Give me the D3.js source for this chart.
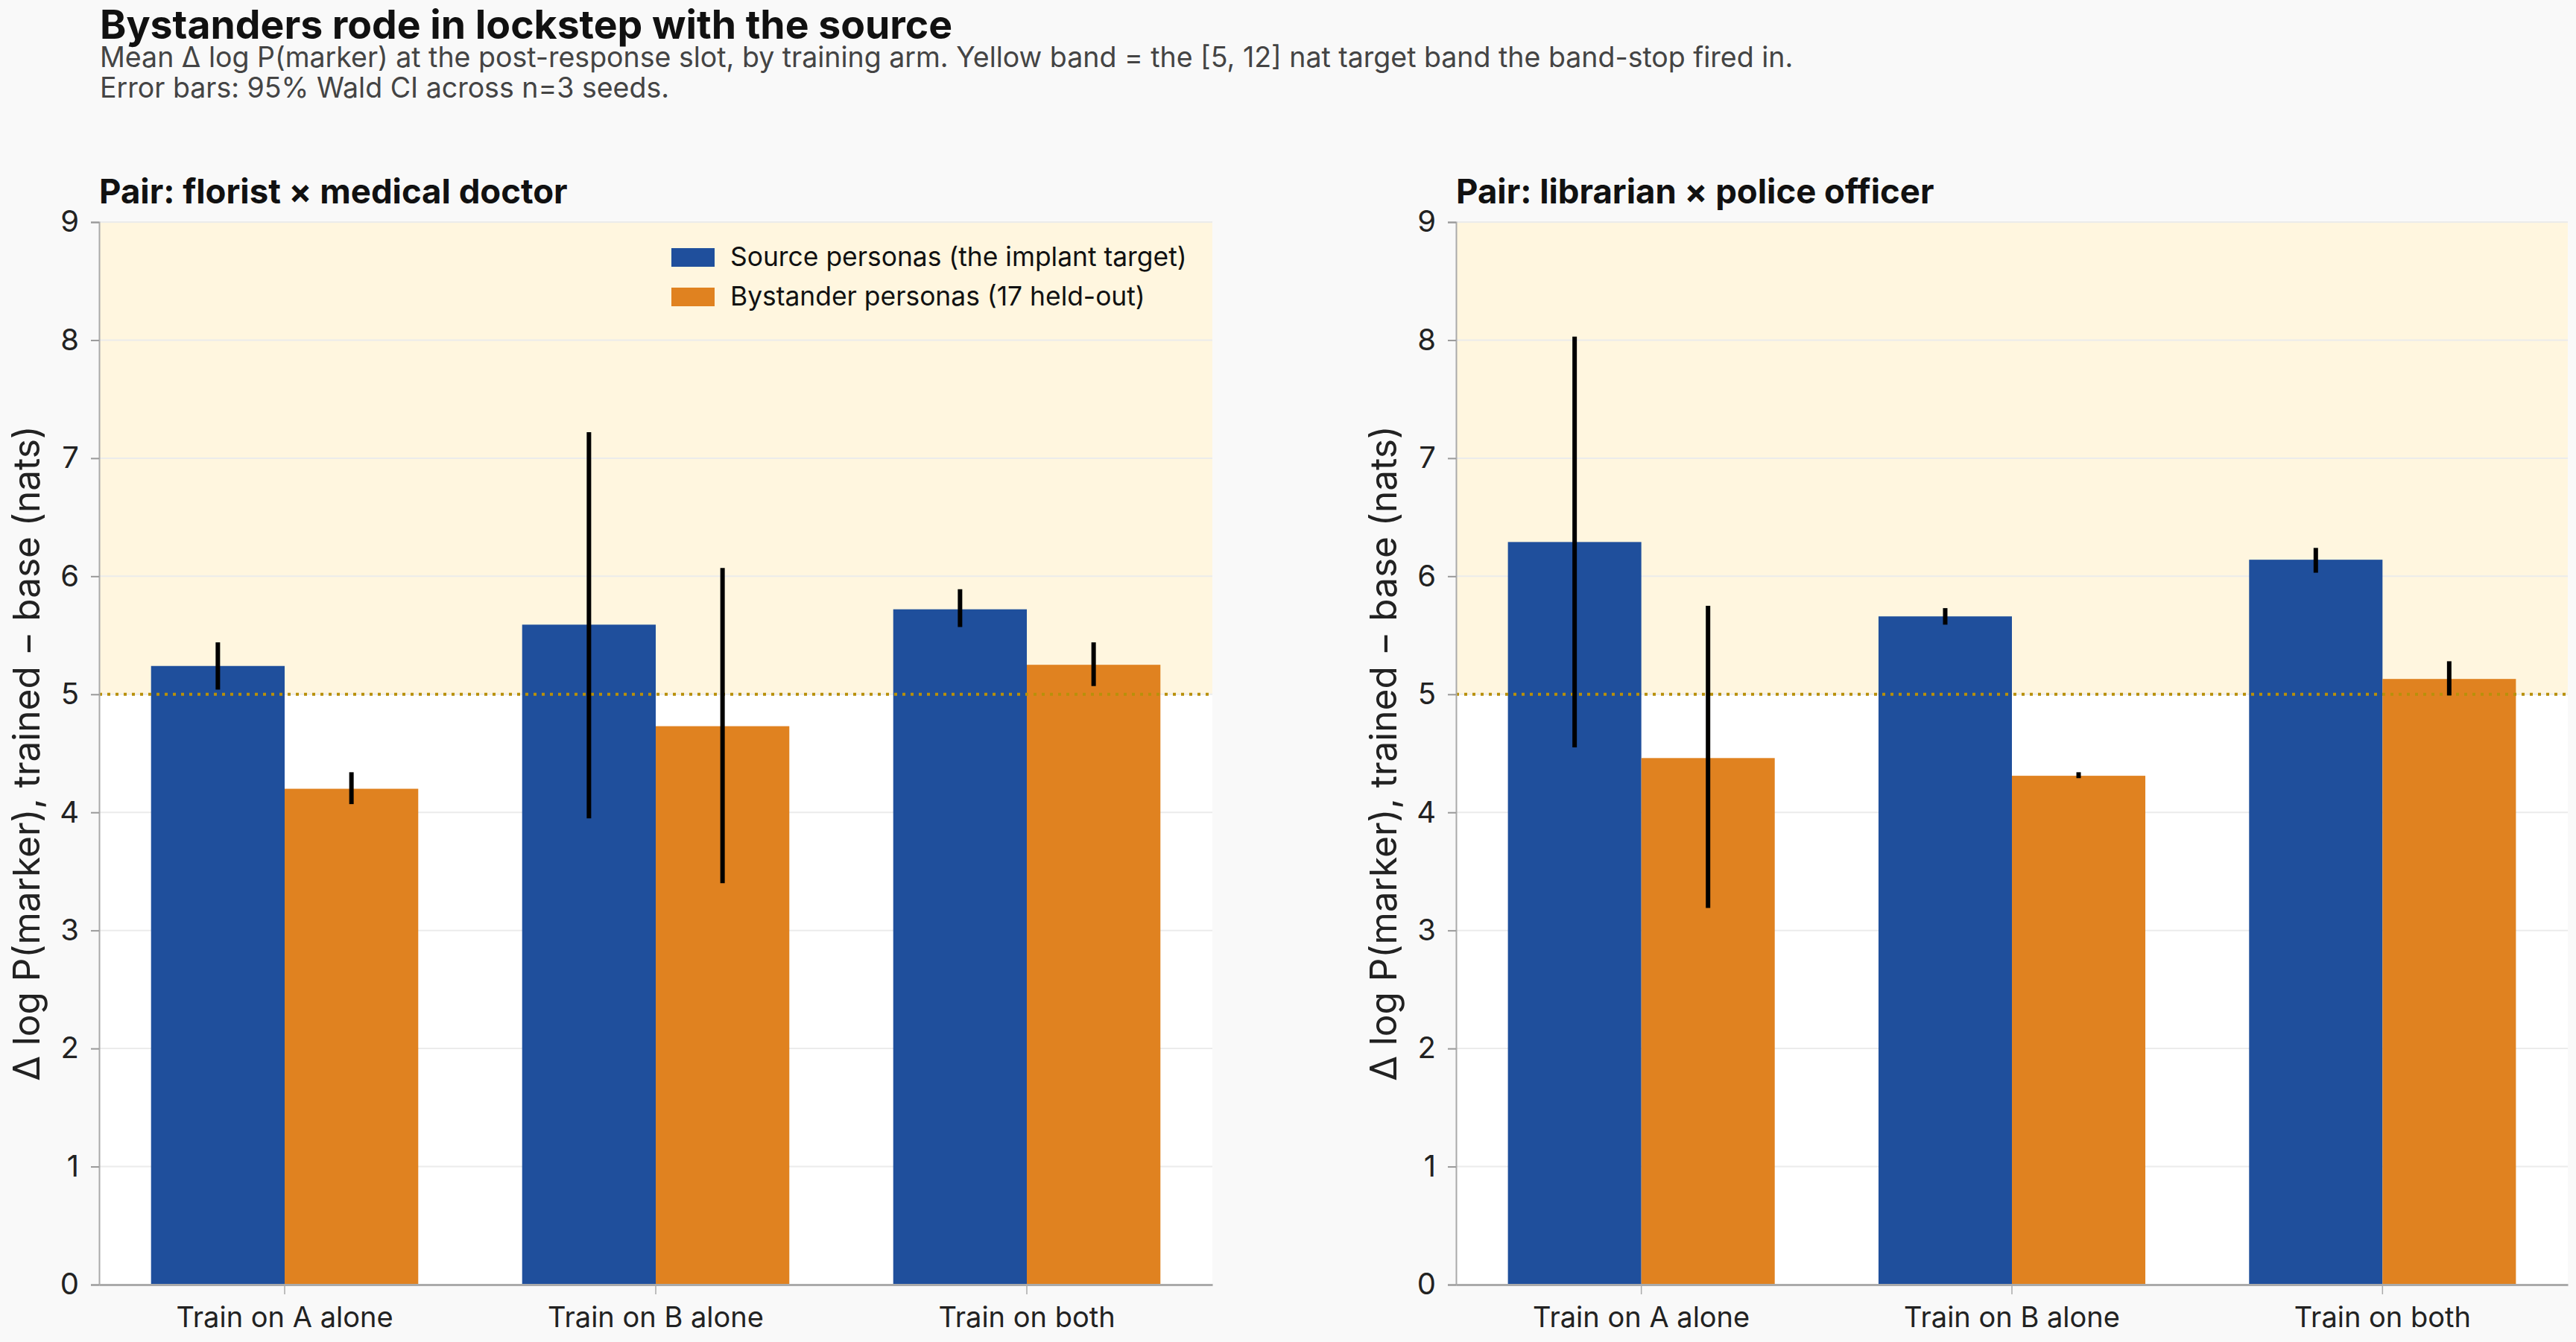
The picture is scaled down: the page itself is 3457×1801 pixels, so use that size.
<!DOCTYPE html>
<html>
<head>
<meta charset="utf-8">
<script src="https://cdn.jsdelivr.net/npm/d3@7"></script>
<style>
  body { margin: 0; background: #f9f9f9; }
  text { font-family: Inter, "Noto Sans", sans-serif; }
</style>
</head>
<body>
<script>
// categories and series
var categories = ["Train on A alone", "Train on B alone", "Train on both"];
var panelTitles = ["Pair: florist × medical doctor", "Pair: librarian × police officer"];
var seriesNames = ["Source personas (the implant target)", "Bystander personas (17 held-out)"];
var yTicks = [0, 1, 2, 3, 4, 5, 6, 7, 8, 9];
var bandLow = 5, bandHigh = 12;

// panel 1: florist x medical doctor
var sourceMean1 = [5.24, 5.59, 5.72];
var sourceLo1 = [5.04, 3.95, 5.57];
var sourceHi1 = [5.44, 7.22, 5.89];
var bystMean1 = [4.20, 4.73, 5.25];
var bystLo1 = [4.07, 3.40, 5.07];
var bystHi1 = [4.34, 6.07, 5.44];

// panel 2: librarian x police officer
var sourceMean2 = [6.29, 5.66, 6.14];
var sourceLo2 = [4.55, 5.59, 6.03];
var sourceHi2 = [8.03, 5.73, 6.24];
var bystMean2 = [4.46, 4.31, 5.13];
var bystLo2 = [3.19, 4.29, 4.99];
var bystHi2 = [5.75, 4.34, 5.28];

var colors = ["#1f4f9c", "#e08220"];

var W = 3457, H = 1801;
var svg = d3.select("body").append("svg")
    .attr("width", W)
    .attr("height", H);

svg.append("rect").attr("width", W).attr("height", H).attr("fill", "#f9f9f9");

// title + subtitle
svg.append("text")
    .attr("x", 134).attr("y", 52)
    .attr("font-size", 53.5).attr("font-weight", 700).attr("fill", "#111")
    .text("Bystanders rode in lockstep with the source");
svg.append("text")
    .attr("x", 134).attr("y", 90)
    .attr("font-size", 37.5).attr("fill", "#444")
    .text("Mean Δ log P(marker) at the post-response slot, by training arm. Yellow band = the [5, 12] nat target band the band-stop fired in.");
svg.append("text")
    .attr("x", 134).attr("y", 131)
    .attr("font-size", 37.5).attr("fill", "#444")
    .text("Error bars: 95% Wald CI across n=3 seeds.");

var panels = [
  { left: 133, right: 1627, title: panelTitles[0],
    series: [
      { mean: sourceMean1, lo: sourceLo1, hi: sourceHi1 },
      { mean: bystMean1, lo: bystLo1, hi: bystHi1 } ] },
  { left: 1954, right: 3446, title: panelTitles[1],
    series: [
      { mean: sourceMean2, lo: sourceLo2, hi: sourceHi2 },
      { mean: bystMean2, lo: bystLo2, hi: bystHi2 } ] }
];

var plotTop = 298, plotBottom = 1724;

panels.forEach(function(p, pi) {
    var width = p.right - p.left;
    var height = plotBottom - plotTop;
    var g = svg.append("g").attr("transform", "translate(" + p.left + "," + plotTop + ")");

    var y = d3.scaleLinear().domain([0, 9]).range([height, 0]);
    var x0 = d3.scaleBand().domain(categories).range([0, width])
        .paddingInner(0.28).paddingOuter(0.14);
    var x1 = d3.scaleBand().domain([0, 1]).range([0, x0.bandwidth()]);

    // plot background and target band
    g.append("rect").attr("width", width).attr("height", height).attr("fill", "#fff");
    g.append("rect")
        .attr("x", 0).attr("y", y(Math.min(bandHigh, 9)))
        .attr("width", width)
        .attr("height", y(bandLow) - y(Math.min(bandHigh, 9)))
        .attr("fill", "#fff6df");

    // grid
    g.selectAll(".grid").data(yTicks.slice(1)).enter().append("line")
        .attr("x1", 0).attr("x2", width)
        .attr("y1", function(d) { return y(d); })
        .attr("y2", function(d) { return y(d); })
        .attr("stroke", "#ebebeb").attr("stroke-width", 2);

    // panel title
    svg.append("text")
        .attr("x", p.left).attr("y", 273)
        .attr("font-size", 45.5).attr("font-weight", 700).attr("fill", "#111")
        .text(p.title);

    // bars
    p.series.forEach(function(s, si) {
        g.selectAll(".bar" + si).data(categories).enter().append("rect")
            .attr("x", function(d) { return x0(d) + x1(si); })
            .attr("y", function(d, i) { return y(s.mean[i]); })
            .attr("width", x1.bandwidth())
            .attr("height", function(d, i) { return height - y(s.mean[i]); })
            .attr("fill", colors[si]);
    });

    // band edge line at 5
    g.append("line")
        .attr("x1", 0).attr("x2", width)
        .attr("y1", y(bandLow)).attr("y2", y(bandLow))
        .attr("stroke", "#b8900a").attr("stroke-width", 4)
        .attr("stroke-dasharray", "4,7");

    // error bars
    p.series.forEach(function(s, si) {
        g.selectAll(".err" + si).data(categories).enter().append("line")
            .attr("x1", function(d) { return x0(d) + x1(si) + x1.bandwidth() / 2; })
            .attr("x2", function(d) { return x0(d) + x1(si) + x1.bandwidth() / 2; })
            .attr("y1", function(d, i) { return y(s.lo[i]); })
            .attr("y2", function(d, i) { return y(s.hi[i]); })
            .attr("stroke", "#000").attr("stroke-width", 6);
    });

    // axes
    var yAxis = g.append("g")
        .call(d3.axisLeft(y).tickValues(yTicks).tickSize(11).tickPadding(16));
    yAxis.select(".domain").attr("stroke", "#aaa").attr("stroke-width", 2);
    yAxis.selectAll(".tick line").attr("stroke", "#999").attr("stroke-width", 2);
    yAxis.selectAll(".tick text").attr("font-size", 40).attr("fill", "#222")
        .style("font-family", "Inter");

    var xAxis = g.append("g")
        .attr("transform", "translate(0," + height + ")")
        .call(d3.axisBottom(x0).tickSize(13).tickPadding(17).tickSizeOuter(0));
    xAxis.select(".domain").attr("stroke", "#aaa").attr("stroke-width", 3);
    xAxis.selectAll(".tick line").attr("stroke", "#aaa").attr("stroke-width", 1.5);
    xAxis.selectAll(".tick text").attr("font-size", 38).attr("fill", "#222")
        .style("font-family", "Inter");

    // y label
    svg.append("text")
        .attr("transform", "translate(" + (p.left - 80) + "," + (plotTop + height / 2) + ") rotate(-90)")
        .attr("text-anchor", "middle")
        .attr("font-size", 49.5).attr("fill", "#222")
        .text("Δ log P(marker), trained − base (nats)");

    // legend only in the first panel
    if (pi === 0) {
        var lg = svg.append("g");
        seriesNames.forEach(function(name, si) {
            lg.append("rect")
                .attr("x", 901).attr("y", 333 + si * 53)
                .attr("width", 58).attr("height", 25)
                .attr("fill", colors[si]);
            lg.append("text")
                .attr("x", 980).attr("y", 357 + si * 53)
                .attr("font-size", 35.4).attr("fill", "#111")
                .text(name);
        });
    }
});
</script>
</body>
</html>
